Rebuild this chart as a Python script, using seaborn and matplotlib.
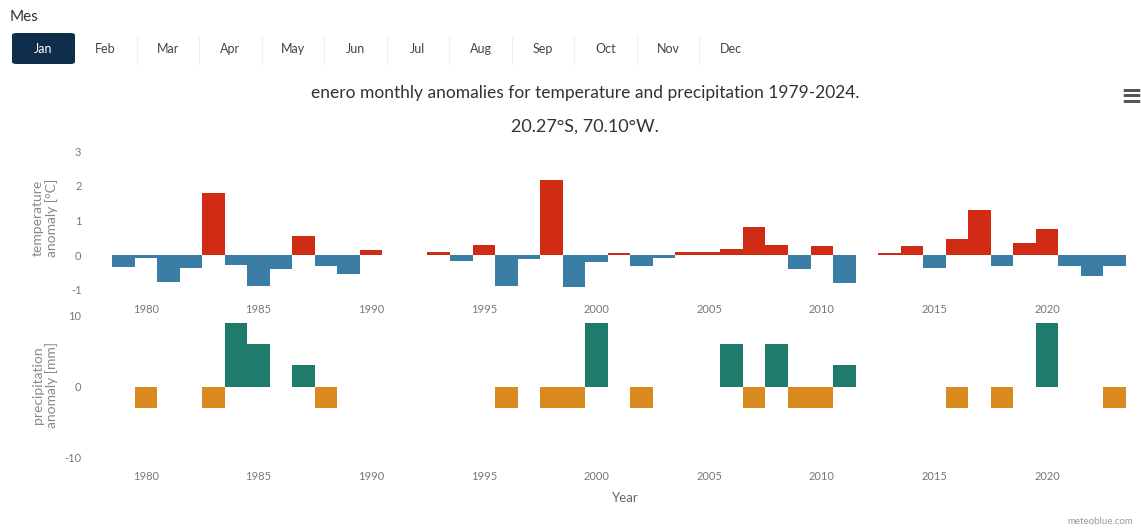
import numpy as np
import pandas as pd
import matplotlib
matplotlib.use("Agg")
import matplotlib.pyplot as plt
from matplotlib.patches import FancyBboxPatch
import seaborn as sns

# ---- data -------------------------------------------------------------
years = [1979, 1980, 1981, 1982, 1983, 1984, 1985, 1986, 1987, 1988, 1989, 1990,
         1993, 1994, 1995, 1996, 1997, 1998, 1999, 2000, 2001, 2002, 2003, 2004,
         2005, 2006, 2007, 2008, 2009, 2010, 2011,
         2013, 2014, 2015, 2016, 2017, 2018, 2019, 2020, 2021, 2022, 2023]

temp_anomaly = [-0.35, -0.08, -0.77, -0.38, 1.79, -0.29, -0.89, -0.41, 0.55, -0.32, -0.53, 0.14,
                0.10, -0.17, 0.29, -0.89, -0.10, 2.17, -0.92, -0.20, 0.07, -0.30, -0.08, 0.08,
                0.08, 0.18, 0.80, 0.29, -0.40, 0.27, -0.80,
                0.07, 0.27, -0.38, 0.48, 1.29, -0.30, 0.36, 0.75, -0.32, -0.60, -0.32]

precip_anomaly = [0, -3, 0, 0, -3, 9, 6, 0, 3, -3, 0, 0,
                  0, 0, 0, -3, 0, -3, -3, 9, 0, -3, 0, 0,
                  0, 6, -3, 6, -3, -3, 3,
                  0, 0, 0, -3, 0, -3, 0, 9, 0, 0, -3]

months = ["Jan", "Feb", "Mar", "Apr", "May", "Jun",
          "Jul", "Aug", "Sep", "Oct", "Nov", "Dec"]
x_ticks = [1980, 1985, 1990, 1995, 2000, 2005, 2010, 2015, 2020]
temp_ticks = [-1, 0, 1, 2, 3]
precip_ticks = [-10, 0, 10]

title = "enero monthly anomalies for temperature and precipitation 1979-2024."
subtitle = "20.27°S, 70.10°W."

# ---- styling ----------------------------------------------------------
sns.set_theme(style="white")
plt.rcParams["font.family"] = ["Lato", "DejaVu Sans"]

RED, BLUE = "#cf2b15", "#3a7ea5"
GREEN, ORANGE = "#1f7b6b", "#d98a1e"
TICK_COLOR = "#777777"

W, H = 1141, 530
fig = plt.figure(figsize=(W / 100, H / 100), dpi=100)


def frac_x(px):
    return px / W


def frac_y(py):
    return 1 - py / H


df = pd.DataFrame({
    "year": years,
    "temp": temp_anomaly,
    "precip": precip_anomaly,
})
df["temp_sign"] = np.where(df["temp"] >= 0, "pos", "neg")
df["precip_sign"] = np.where(df["precip"] > 0, "pos", "neg")

left, right = 112, 1126
ax_t = fig.add_axes([frac_x(left), frac_y(290), frac_x(right - left), frac_y(151) - frac_y(290)])
ax_p = fig.add_axes([frac_x(left), frac_y(457), frac_x(right - left), frac_y(316) - frac_y(457)])

sns.barplot(data=df, x="year", y="temp", hue="temp_sign",
            palette={"pos": RED, "neg": BLUE}, hue_order=["pos", "neg"],
            native_scale=True, dodge=False, width=1.0, errorbar=None,
            linewidth=0, saturation=1, legend=False, ax=ax_t)
sns.barplot(data=df, x="year", y="precip", hue="precip_sign",
            palette={"pos": GREEN, "neg": ORANGE}, hue_order=["pos", "neg"],
            native_scale=True, dodge=False, width=1.0, errorbar=None,
            linewidth=0, saturation=1, legend=False, ax=ax_p)

for ax, yt, ylim in [(ax_t, temp_ticks, (-1, 3)), (ax_p, precip_ticks, (-10, 10))]:
    ax.set_xlim(1978.5, 2023.5)
    ax.set_ylim(*ylim)
    ax.set_xticks(x_ticks)
    ax.set_xticklabels([str(t) for t in x_ticks])
    ax.set_yticks(yt)
    ax.set_yticklabels([str(t) for t in yt])
    ax.set_xlabel("")
    ax.set_ylabel("")
    for s in ax.spines.values():
        s.set_visible(False)
    ax.tick_params(axis="x", length=0, pad=10, labelsize=8, labelcolor=TICK_COLOR)
    ax.tick_params(axis="y", length=0, pad=22, labelsize=8, labelcolor=TICK_COLOR)
    ax.patch.set_alpha(0)

# axis titles
fig.text(frac_x(45), frac_y(218), "temperature\nanomaly [°C]", rotation=90,
         ha="center", va="center", fontsize=10, color="#888888", linespacing=1.1)
fig.text(frac_x(45), frac_y(385), "precipitation\nanomaly [mm]", rotation=90,
         ha="center", va="center", fontsize=10, color="#888888", linespacing=1.1)
fig.text(frac_x(625), frac_y(498), "Year", ha="center", va="center",
         fontsize=9.5, color="#666666")

# chart title
fig.text(frac_x(585), frac_y(93), title, ha="center", va="center",
         fontsize=12.5, color="#333333")
fig.text(frac_x(585), frac_y(127), subtitle, ha="center", va="center",
         fontsize=13, color="#333333")

# menu icon and credit
fig.text(frac_x(1131), frac_y(97), "≡", ha="center", va="center",
         fontsize=19, color="#555555", family="DejaVu Sans", weight="bold")
fig.text(frac_x(1100), frac_y(521), "meteoblue.com", ha="center", va="center",
         fontsize=7, color="#9a9a9a")

# month selector
fig.text(frac_x(10), frac_y(17), "Mes", ha="left", va="center",
         fontsize=11, color="#333333")
btn = FancyBboxPatch((frac_x(12), frac_y(64)), frac_x(63), frac_y(33) - frac_y(64),
                     boxstyle="round,pad=0,rounding_size=0.004",
                     transform=fig.transFigure, facecolor="#0f2e4b",
                     edgecolor="none")
fig.add_artist(btn)
centers = [43 + 62.5 * i for i in range(12)]
for i, (m, cx) in enumerate(zip(months, centers)):
    fig.text(frac_x(cx), frac_y(49), m, ha="center", va="center", fontsize=9,
             color="white" if i == 0 else "#444444")
    if i > 1:
        sx = (centers[i - 1] + cx) / 2
        fig.add_artist(plt.Line2D([frac_x(sx), frac_x(sx)], [frac_y(36), frac_y(64)],
                                  transform=fig.transFigure, color="#f0f0f0", lw=0.8))

fig.savefig("out.png", dpi=100)
